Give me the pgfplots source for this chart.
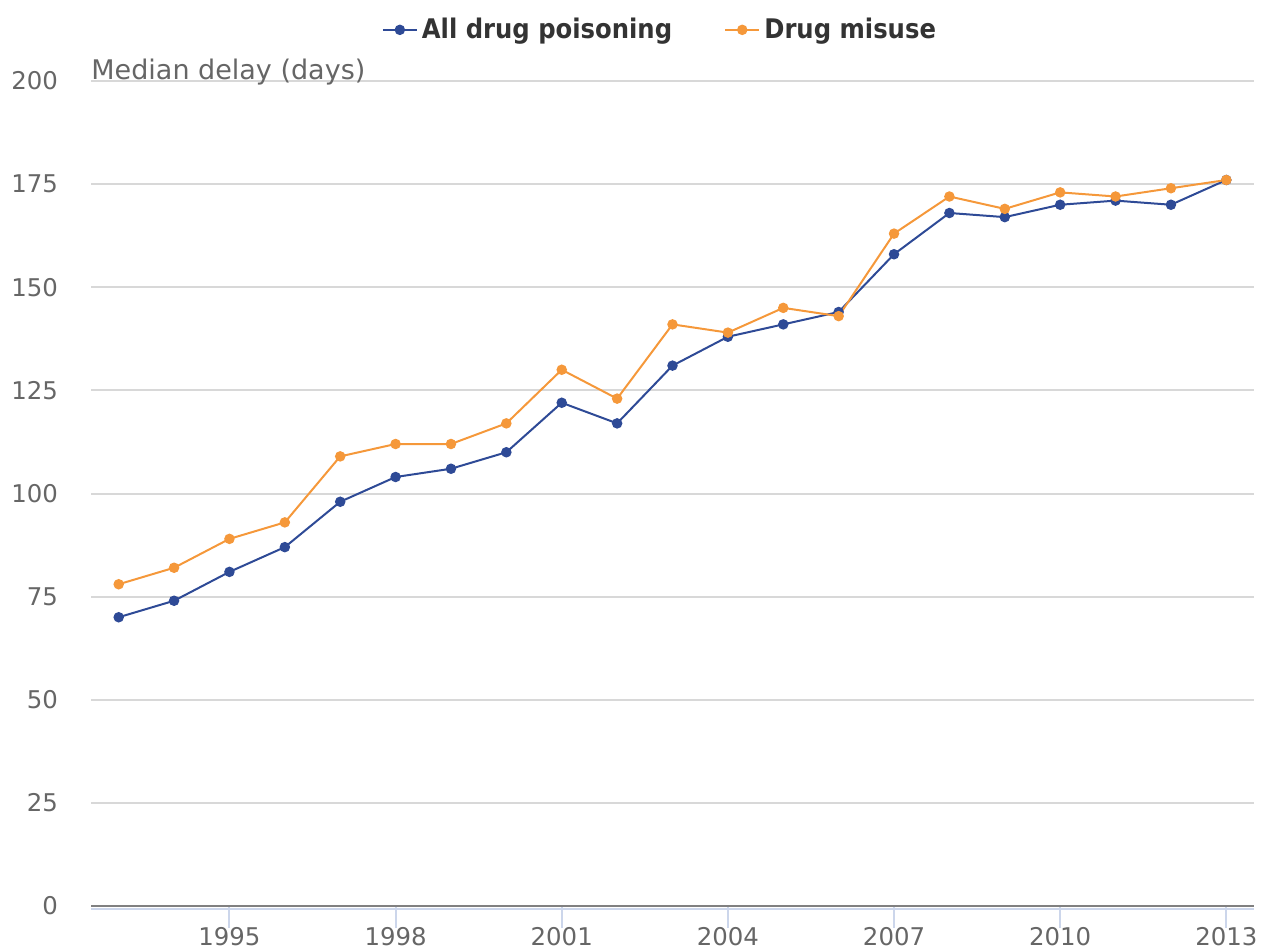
\documentclass[border=0pt]{standalone}
\usepackage{fontspec}
\setmainfont{DejaVu Sans}
\newfontfamily\legfont{DejaVu Sans Condensed Bold}
\usepackage{pgfplots}
\pgfplotsset{compat=1.18}
\definecolor{cblue}{HTML}{2E4A96}
\definecolor{corange}{HTML}{F5983A}
\definecolor{gridc}{HTML}{D8D8D8}
\definecolor{axc}{HTML}{CCD6EB}
\definecolor{txtc}{HTML}{666666}
\definecolor{legc}{HTML}{333333}
\begin{document}
\begin{tikzpicture}[x=1pt,y=1pt]
\useasboundingbox (0,0) rectangle (634,474.5);
\begin{axis}[
  at={(45.5pt,21.5pt)}, anchor=origin,
  scale only axis, width=581.5pt, height=412.5pt,
  xmin=1992.5, xmax=2013.5, ymin=0, ymax=200,
  clip=false,
  xtick={1995,1998,2001,2004,2007,2010,2013},
  ytick={0,25,...,200},
  xticklabel style={/pgf/number format/1000 sep=},
  /pgf/number format/assume math mode=true,
  ymajorgrids, grid style={gridc, line width=1pt},
  axis x line*=bottom, axis y line*=left,
  y axis line style={draw=none},
  x axis line style={draw=none},
  xtick style={draw=axc, line width=1pt},
  ytick style={draw=none},
  xtick pos=bottom,
  major tick length=11pt,
  tick align=outside,
  tick label style={color=txtc, font=\fontsize{12.2}{14}\selectfont},
  yticklabel style={anchor=east, xshift=-2pt},
  xticklabel style={anchor=north, yshift=3.8pt},
  legend columns=2,
  legend style={at={(rel axis cs:0.490,1.062)}, anchor=center, draw=none, fill=none,
    font=\legfont\fontsize{13.5}{15}\selectfont\color{legc},
    /tikz/every even column/.append style={column sep=24pt}},
  every axis plot/.append style={line width=1pt, mark=*, mark size=2.1pt},
]
\addplot[cblue, mark options={fill=cblue, draw=cblue}] coordinates {
(1993,70)(1994,74)(1995,81)(1996,87)(1997,98)(1998,104)(1999,106)(2000,110)
(2001,122)(2002,117)(2003,131)(2004,138)(2005,141)(2006,144)(2007,158)
(2008,168)(2009,167)(2010,170)(2011,171)(2012,170)(2013,176)};
\addlegendentry{All drug poisoning}
\addplot[corange, mark options={fill=corange, draw=corange}] coordinates {
(1993,78)(1994,82)(1995,89)(1996,93)(1997,109)(1998,112)(1999,112)(2000,117)
(2001,130)(2002,123)(2003,141)(2004,139)(2005,145)(2006,143)(2007,163)
(2008,172)(2009,169)(2010,173)(2011,172)(2012,174)(2013,176)};
\addlegendentry{Drug misuse}
\draw[axc, line width=1pt] ([yshift=-1.5pt]rel axis cs:0,0) -- ([yshift=-1.5pt]rel axis cs:1,0);
\draw[black!50, line width=1pt] ([yshift=0.2pt]rel axis cs:0,0) -- ([yshift=0.2pt]rel axis cs:1,0);
\node[anchor=base west, inner sep=0pt, text=txtc, font=\fontsize{13.5}{15}\selectfont] at ([yshift=0.8pt]rel axis cs:0,1) {Median delay (days)};
\end{axis}
\end{tikzpicture}
\end{document}
